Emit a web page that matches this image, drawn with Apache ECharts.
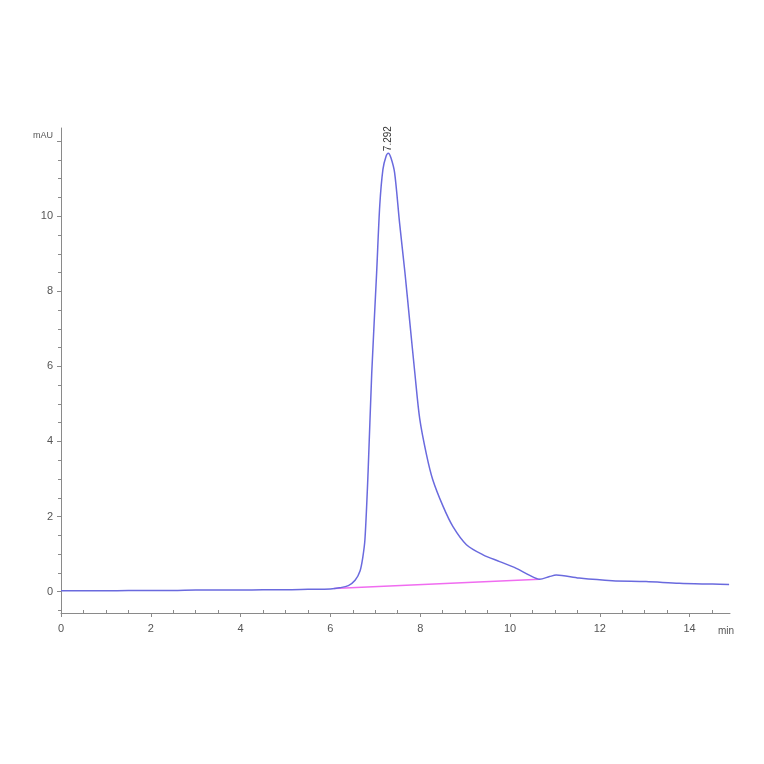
<!DOCTYPE html>
<html>
<head>
<meta charset="utf-8">
<script src="https://cdn.jsdelivr.net/npm/echarts@6/dist/echarts.min.js"></script>
<style>
html,body{margin:0;padding:0;background:#fff;}
#chart{width:764px;height:764px;}
</style>
</head>
<body>
<div id="chart"></div>
<script>
// Retention time (min)
const timeMin = [0, 0.5, 1, 1.5, 2, 2.5, 3, 3.5, 4, 4.5, 5, 5.5, 6.0, 6.2, 6.4, 6.55, 6.66, 6.72, 6.77, 6.84, 6.92, 7.03, 7.10, 7.17, 7.24, 7.29, 7.35, 7.43, 7.54, 7.66, 7.77, 7.88, 7.99, 8.14, 8.28, 8.51, 8.73, 9.03, 9.40, 9.77, 10.14, 10.43, 10.66, 10.88, 11.03, 11.54, 12.28, 13.03, 13.77, 14.51, 14.88];
// Absorbance (mAU)
const signalMAU = [0.02, 0.02, 0.02, 0.03, 0.03, 0.03, 0.04, 0.04, 0.04, 0.05, 0.05, 0.06, 0.07, 0.10, 0.16, 0.30, 0.55, 0.90, 1.40, 3.20, 5.80, 8.50, 10.30, 11.25, 11.60, 11.68, 11.55, 11.16, 9.83, 8.50, 7.16, 5.83, 4.60, 3.65, 2.98, 2.27, 1.73, 1.25, 0.98, 0.80, 0.62, 0.44, 0.33, 0.40, 0.44, 0.36, 0.29, 0.27, 0.22, 0.20, 0.19];
// Integration baseline
const baselineTime = [6.08, 10.66];
const baselineMAU = [0.08, 0.33];
// Peak annotation
const peakTime = 7.292;
const peakHeight = 11.68;
const peakLabel = '7.292';
// Axis ticks
const xMajorTicks = [0, 2, 4, 6, 8, 10, 12, 14];
const xMinorTicks = [0.5,1,1.5,2.5,3,3.5,4.5,5,5.5,6.5,7,7.5,8.5,9,9.5,10.5,11,11.5,12.5,13,13.5,14.5];
const yMajorTicks = [0, 2, 4, 6, 8, 10, 12];
const yLabels = [0, 2, 4, 6, 8, 10];
const yMinorTicks = [-0.5,0.5,1,1.5,2.5,3,3.5,4.5,5,5.5,6.5,7,7.5,8.5,9,9.5,10.5,11,11.5];
const X_MIN = 0, X_MAX = 14.9, Y_MIN = -0.57, Y_MAX = 12.35;

const mainData = timeMin.map((t, i) => [t, signalMAU[i]]);
const baseData = baselineTime.map((t, i) => [t, baselineMAU[i]]);

const axisColor = '#8a8a8a';
const textColor = '#555';
const font = 'Liberation Sans, Arial, sans-serif';

const chart = echarts.init(document.getElementById('chart'));
chart.setOption({
  backgroundColor: '#fff',
  animation: false,
  grid: {left: 61, right: 34, top: 128, bottom: 151},
  xAxis: [{
    type: 'value', min: X_MIN, max: X_MAX,
    axisLine: {show: true, onZero: false, lineStyle: {color: axisColor, width: 1}},
    axisTick: {show: true, length: 4, customValues: xMajorTicks, lineStyle: {color: axisColor}},
    axisLabel: {customValues: xMajorTicks, color: textColor, fontSize: 11, fontFamily: font, margin: 10},
    splitLine: {show: false},
    name: 'min', nameLocation: 'end', nameGap: -4,
    nameTextStyle: {color: textColor, fontSize: 10, fontFamily: font, verticalAlign: 'top', align: 'center', padding: [13, 0, 0, 0]}
  }, {
    type: 'value', min: X_MIN, max: X_MAX, position: 'bottom', offset: 0,
    axisLine: {show: false, onZero: false},
    axisTick: {show: true, inside: true, length: 3, customValues: xMinorTicks, lineStyle: {color: axisColor}},
    axisLabel: {show: false}, splitLine: {show: false}
  }],
  yAxis: [{
    type: 'value', min: Y_MIN, max: Y_MAX,
    axisLine: {show: true, onZero: false, lineStyle: {color: axisColor, width: 1}},
    axisTick: {show: true, length: 4, customValues: yMajorTicks, lineStyle: {color: axisColor}},
    axisLabel: {customValues: yLabels, color: textColor, fontSize: 11, fontFamily: font, margin: 8},
    splitLine: {show: false},
    name: 'mAU', nameLocation: 'end', nameGap: -8,
    nameTextStyle: {color: textColor, fontSize: 9, fontFamily: font, align: 'right', verticalAlign: 'middle', padding: [0, 8, 0, 0]}
  }, {
    type: 'value', min: Y_MIN, max: Y_MAX, position: 'left', offset: 0,
    axisLine: {show: false, onZero: false},
    axisTick: {show: true, inside: false, length: 3, customValues: yMinorTicks, lineStyle: {color: axisColor}},
    axisLabel: {show: false}, splitLine: {show: false}
  }],
  series: [{
    type: 'line', data: baseData, xAxisIndex: 0, yAxisIndex: 0,
    symbol: 'none', lineStyle: {color: '#f06cf0', width: 1.5}, z: 2
  }, {
    type: 'line', data: mainData, xAxisIndex: 0, yAxisIndex: 0,
    symbol: 'none', smooth: 0.3,
    lineStyle: {color: '#6a6ade', width: 1.5}, z: 3,
    markPoint: {
      symbol: 'circle', symbolSize: 0,
      data: [{coord: [peakTime, peakHeight], value: peakLabel}],
      label: {show: true, formatter: peakLabel, rotate: 90, position: 'top', distance: 2,
        align: 'left', verticalAlign: 'middle',
        color: '#333', fontSize: 10, fontFamily: font}
    }
  }]
});
</script>
</body>
</html>
